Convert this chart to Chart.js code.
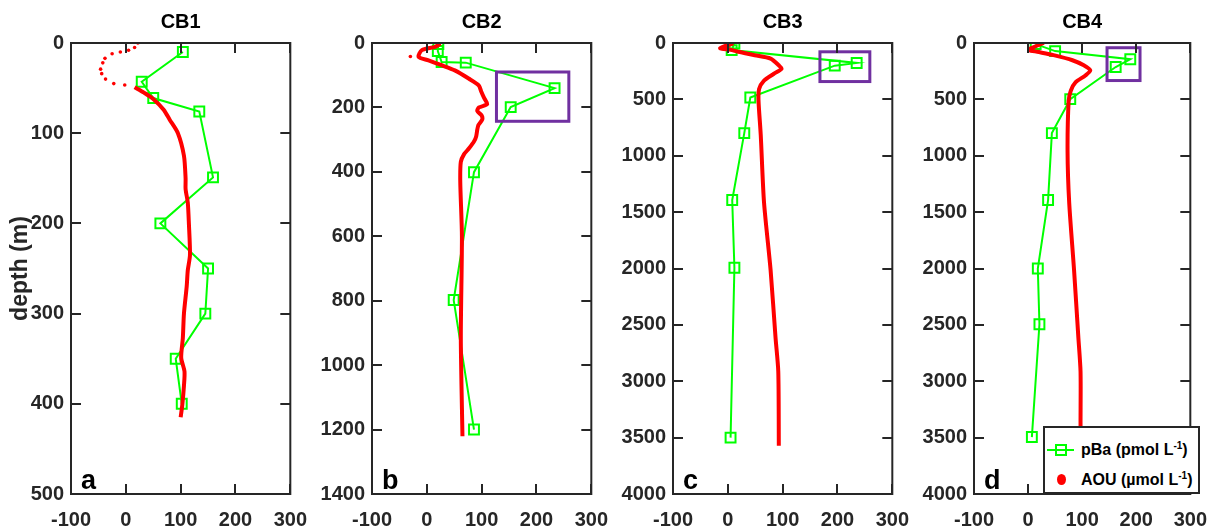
<!DOCTYPE html>
<html>
<head>
<meta charset="utf-8">
<script src="https://cdn.jsdelivr.net/npm/chart.js@4.4.0/dist/chart.umd.min.js"></script>
<style>
  body { margin: 0; background: #fff; }
  #wrap { position: relative; width: 1221px; height: 532px; overflow: hidden; }
  canvas { position: absolute; top: 0; }
  #legend {
    position: absolute; left: 1043px; top: 426px; width: 153px; height: 64px;
    border: 2px solid #262626; background: #fff;
    font: bold 16px 'Liberation Sans', Arial, sans-serif; color: #000;
  }
  #legend .row { position: absolute; left: 0; height: 20px; width: 100%; }
  #legend .txt { position: absolute; left: 36px; top: 0; line-height: 20px; white-space: nowrap; }
  #legend sup { font-size: 10px; line-height: 0; vertical-align: 6px; }
  .sample-line { position: absolute; left: 2px; top: 9px; width: 27px; height: 2px; background: #00ff00; }
  .sample-box { position: absolute; left: 10px; top: 4px; width: 8px; height: 8px; border: 2px solid #00ff00; }
  .sample-dot { position: absolute; left: 12px; top: 4px; width: 9px; height: 11px; border-radius: 50%; background: #ff0000; }
</style>
</head>
<body>
<div id="wrap">
  <canvas id="p0" width="321" height="532" style="left:0px"></canvas>
  <canvas id="p1" width="321" height="532" style="left:301px"></canvas>
  <canvas id="p2" width="321" height="532" style="left:602px"></canvas>
  <canvas id="p3" width="318" height="532" style="left:903px"></canvas>
  <div id="legend">
    <div class="row" style="top:12px"><div class="sample-line"></div><div class="sample-box"></div><span class="txt">pBa (pmol L<sup>-1</sup>)</span></div>
    <div class="row" style="top:42px"><div class="sample-dot"></div><span class="txt">AOU (µmol L<sup>-1</sup>)</span></div>
  </div>
</div>
<script>
// stations and panel letters
const stations = ['CB1', 'CB2', 'CB3', 'CB4'];
const panelLetters = ['a', 'b', 'c', 'd'];

// axis ticks
const xTicks = [-100, 0, 100, 200, 300];
const depthTicks = [
  [0, 100, 200, 300, 400, 500],
  [0, 200, 400, 600, 800, 1000, 1200, 1400],
  [0, 500, 1000, 1500, 2000, 2500, 3000, 3500, 4000],
  [0, 500, 1000, 1500, 2000, 2500, 3000, 3500, 4000]
];

// pBa (pmol/L) by depth
const cb1PbaDepth = [10, 43, 61, 76, 149, 200, 250, 300, 350, 400];
const cb1Pba      = [104, 29, 50, 134, 159, 63, 150, 145, 91, 102];
const cb2PbaDepth = [3, 25, 59, 61, 140, 199, 401, 798, 1200];
const cb2Pba      = [21, 20, 27, 71, 233, 153, 86, 49, 86];
const cb3PbaDepth = [5, 63, 177, 201, 483, 799, 1393, 1993, 3500];
const cb3Pba      = [12, 7, 235, 195, 41, 30, 8, 12, 5];
const cb4PbaDepth = [10, 72, 144, 213, 498, 799, 1393, 2000, 2495, 3495];
const cb4Pba      = [14, 50, 189, 162, 78, 44, 37, 18, 21, 7];

// AOU (umol/L) profiles, continuous part
const cb1AouDepth = [49, 55, 62, 74, 85, 100, 125, 150, 162, 177, 200, 235, 252, 270, 300, 327, 349, 364, 380, 401, 415];
const cb1Aou      = [16, 33, 50, 69, 80, 95, 106, 109, 109, 113, 115, 117, 113, 111, 106, 104, 101, 107, 106, 103, 100];
const cb2AouDepth = [2, 12, 22, 43, 54, 69, 85, 111, 132, 150, 169, 190, 200, 211, 225, 238, 255, 269, 290, 306, 327, 345, 369, 432, 600, 916, 1221];
const cb2Aou      = [25, 15, -9, -15, 3, 27, 51, 77, 95, 99, 104, 110, 95, 92, 100, 101, 94, 92, 90, 86, 77, 68, 62, 61, 64, 62, 65];
const cb3AouDepth = [3, 45, 60, 78, 108, 138, 198, 228, 273, 333, 408, 513, 813, 1413, 2013, 2613, 2913, 3573];
const cb3Aou      = [10, -14, 5, 19, 49, 78, 93, 98, 84, 66, 57, 56, 60, 66, 78, 87, 92, 93];
const cb4AouDepth = [0, 48, 63, 78, 108, 153, 198, 243, 288, 348, 423, 513, 963, 1413, 2013, 2613, 2913, 3363, 3600];
const cb4Aou      = [29, 5, 2, 17, 47, 82, 103, 115, 106, 88, 79, 75, 73, 76, 85, 93, 97, 97, 97];

// AOU sparse samples shown as separate dots
const cb1AouDotDepth = [0, 5, 8, 10, 12, 17, 22, 29, 34, 40, 45, 46.5];
const cb1AouDot      = [22, 16, 5, -10, -25, -38, -42, -46, -44, -37, -22, -2];
const cb2AouDotDepth = [42];
const cb2AouDot      = [-30];

// highlighted regions [xMin, xMax, depthMin, depthMax]
const highlightBoxes = [null, [127, 259, 90, 243], [168, 259, 78, 342], [146, 207, 42, 333]];

const pbaSets = [[cb1Pba, cb1PbaDepth], [cb2Pba, cb2PbaDepth], [cb3Pba, cb3PbaDepth], [cb4Pba, cb4PbaDepth]];
const aouSets = [[cb1Aou, cb1AouDepth], [cb2Aou, cb2AouDepth], [cb3Aou, cb3AouDepth], [cb4Aou, cb4AouDepth]];
const aouDotSets = [[cb1AouDot, cb1AouDotDepth], [cb2AouDot, cb2AouDotDepth], [[], []], [[], []]];

const fontFamily = "'Liberation Sans', Arial, sans-serif";
const axisColor = '#262626';

function pairs(xs, ys) {
  return xs.map((v, i) => ({ x: v, y: ys[i] }));
}

// box around the plot, inward ticks, highlight box and panel letter
const framePlugin = {
  id: 'frame',
  afterDatasetsDraw(chart, args, opts) {
    const { ctx, chartArea: a, scales: { x, y } } = chart;
    ctx.save();
    if (opts.box) {
      const b = opts.box;
      const x0 = x.getPixelForValue(b[0]), x1 = x.getPixelForValue(b[1]);
      const y0 = y.getPixelForValue(b[2]), y1 = y.getPixelForValue(b[3]);
      ctx.strokeStyle = '#7030a0';
      ctx.lineWidth = 3;
      ctx.strokeRect(x0, y0, x1 - x0, y1 - y0);
    }
    ctx.strokeStyle = axisColor;
    ctx.lineWidth = 2;
    ctx.strokeRect(a.left, a.top, a.right - a.left, a.bottom - a.top);
    ctx.beginPath();
    xTicks.forEach(v => {
      const px = Math.round(x.getPixelForValue(v));
      ctx.moveTo(px, a.bottom); ctx.lineTo(px, a.bottom - 10);
      ctx.moveTo(px, a.top); ctx.lineTo(px, a.top + 10);
    });
    opts.yTicks.forEach(v => {
      const py = Math.round(y.getPixelForValue(v));
      ctx.moveTo(a.left, py); ctx.lineTo(a.left + 10, py);
      ctx.moveTo(a.right, py); ctx.lineTo(a.right - 10, py);
    });
    ctx.stroke();
    ctx.fillStyle = '#000';
    ctx.font = 'bold 27px ' + fontFamily;
    ctx.textBaseline = 'alphabetic';
    ctx.fillText(opts.letter, a.left + 10, a.bottom - 5);
    ctx.restore();
  }
};

function drawPanel(i) {
  const ctx = document.getElementById('p' + i).getContext('2d');
  const yTicks = depthTicks[i];
  new Chart(ctx, {
    type: 'scatter',
    data: {
      datasets: [
        {
          label: 'AOU dots',
          data: pairs(aouDotSets[i][0], aouDotSets[i][1]),
          showLine: false,
          pointRadius: 1.8,
          pointBackgroundColor: '#ff0000',
          pointBorderWidth: 0
        },
        {
          label: 'AOU (µmol L-1)',
          data: pairs(aouSets[i][0], aouSets[i][1]),
          showLine: true,
          borderColor: '#ff0000',
          borderWidth: 4,
          tension: 0.25,
          pointRadius: 0
        },
        {
          label: 'pBa (pmol L-1)',
          data: pairs(pbaSets[i][0], pbaSets[i][1]),
          showLine: true,
          borderColor: '#00ff00',
          borderWidth: 2,
          pointStyle: 'rect',
          pointRadius: 7,
          pointBorderWidth: 2,
          pointBorderColor: '#00ff00',
          pointBackgroundColor: 'rgba(0,0,0,0)'
        }
      ]
    },
    options: {
      responsive: false,
      animation: false,
      events: [],
      layout: { padding: { right: i === 3 ? 21 : 24, left: 0, top: 0, bottom: 0 } },
      plugins: {
        legend: { display: false },
        tooltip: { enabled: false },
        title: {
          display: true,
          text: stations[i],
          fullSize: false,
          color: '#000',
          font: { family: fontFamily, size: 20, weight: 'bold' },
          padding: { top: 10, bottom: 9 }
        },
        frame: { box: highlightBoxes[i], yTicks: yTicks, letter: panelLetters[i] }
      },
      scales: {
        x: {
          type: 'linear',
          min: -100,
          max: 300,
          grid: { display: false, drawTicks: false },
          border: { display: false },
          afterBuildTicks: s => { s.ticks = xTicks.map(v => ({ value: v })); },
          afterFit: s => { s.height = 38; },
          ticks: {
            padding: 14,
            color: axisColor,
            maxRotation: 0,
            autoSkip: false,
            callback: v => String(v),
            font: { family: fontFamily, size: 20, weight: 'bold' }
          }
        },
        y: {
          type: 'linear',
          reverse: true,
          min: 0,
          max: yTicks[yTicks.length - 1],
          grid: { display: false, drawTicks: false },
          border: { display: false },
          afterBuildTicks: s => { s.ticks = yTicks.map(v => ({ value: v })); },
          afterFit: s => { s.width = 71; },
          title: {
            display: i === 0,
            text: 'depth (m)',
            color: axisColor,
            font: { family: fontFamily, size: 23, weight: 'bold' },
            padding: { top: 7, bottom: 0 }
          },
          ticks: {
            padding: 7,
            color: axisColor,
            autoSkip: false,
            callback: v => String(v),
            font: { family: fontFamily, size: 20, weight: 'bold' }
          }
        }
      }
    },
    plugins: [framePlugin]
  });
}

for (let i = 0; i < 4; i++) drawPanel(i);
</script>
</body>
</html>
